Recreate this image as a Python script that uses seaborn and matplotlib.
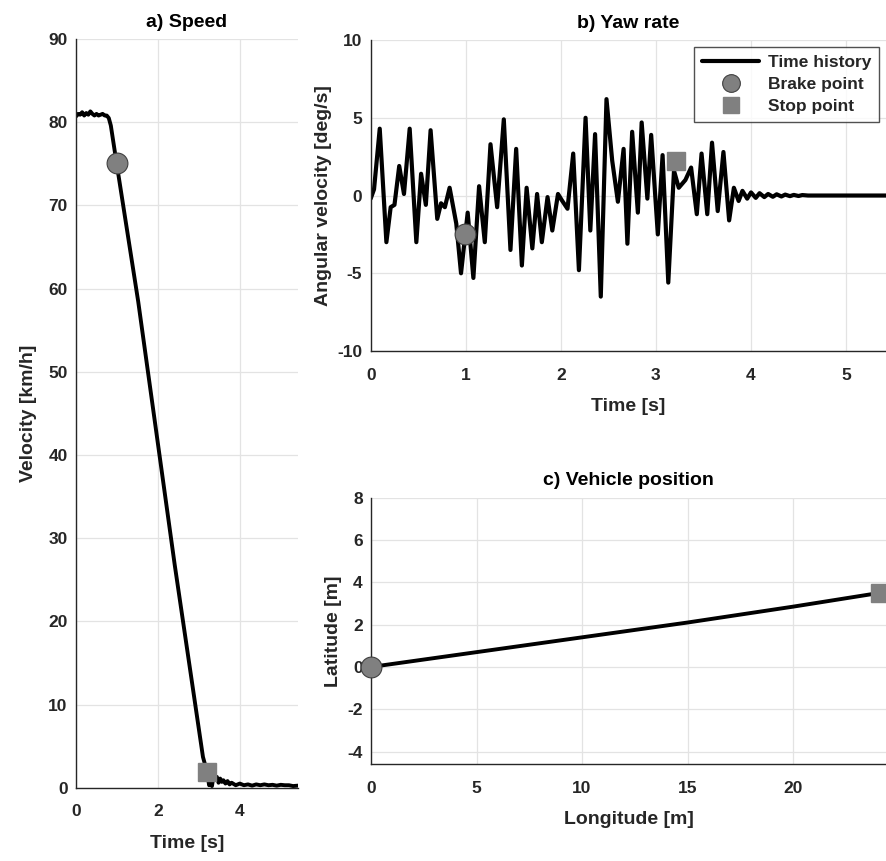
import numpy as np
import pandas as pd
import matplotlib
matplotlib.use('Agg')
import matplotlib.pyplot as plt
import seaborn as sns

# a) speed time history
speed_t = [0.0, 0.05, 0.1, 0.15, 0.2, 0.25, 0.3, 0.35, 0.4, 0.45, 0.5, 0.55, 0.6,
           0.65, 0.7, 0.75, 0.8, 0.85, 0.99, 1.52, 2.41, 3.10, 3.15, 3.2, 3.25,
           3.28, 3.32, 3.36, 3.4, 3.44, 3.48, 3.52, 3.56, 3.6, 3.65, 3.7, 3.75,
           3.8, 3.9, 4.0, 4.1, 4.2, 4.3, 4.4, 4.5, 4.6, 4.7, 4.8, 4.9, 5.0, 5.1,
           5.2, 5.3, 5.42]
speed_v = [80.7, 81.0, 80.9, 81.2, 80.8, 81.1, 80.9, 81.3, 81.0, 80.8, 81.0, 80.8,
           80.9, 81.0, 80.8, 80.8, 80.5, 79.6, 75.1, 58.4, 26.8, 3.7, 2.8, 1.9,
           0.3, 1.6, 0.2, 1.5, 1.0, 1.3, 0.6, 1.1, 0.7, 0.9, 0.5, 0.8, 0.4, 0.6,
           0.3, 0.5, 0.3, 0.4, 0.25, 0.4, 0.3, 0.4, 0.3, 0.35, 0.25, 0.35, 0.3,
           0.3, 0.2, 0.25]

# b) yaw rate time history
yaw_t = [0.0, 0.035, 0.095, 0.165, 0.21, 0.25, 0.30, 0.35, 0.41, 0.48, 0.53, 0.58,
         0.63, 0.70, 0.74, 0.78, 0.83, 0.90, 0.95, 1.02, 1.08, 1.14, 1.20, 1.26,
         1.33, 1.40, 1.47, 1.53, 1.59, 1.64, 1.70, 1.75, 1.80, 1.86, 1.91, 1.97,
         2.01, 2.07, 2.13, 2.19, 2.26, 2.31, 2.36, 2.42, 2.48, 2.54, 2.60, 2.66,
         2.70, 2.75, 2.81, 2.85, 2.91, 2.95, 3.02, 3.07, 3.13, 3.19, 3.24, 3.31,
         3.37, 3.43, 3.48, 3.54, 3.59, 3.65, 3.71, 3.77, 3.82, 3.87, 3.91, 3.96,
         4.0, 4.05, 4.09, 4.14, 4.18, 4.23, 4.27, 4.32, 4.36, 4.41, 4.45, 4.5,
         4.54, 4.6, 5.42]
yaw_v = [-0.2, 0.4, 4.3, -3.0, -0.75, -0.6, 1.9, 0.1, 4.3, -3.0, 1.4, -0.6,
         4.2, -1.5, -0.5, -0.75, 0.5, -1.8, -5.0, -1.1, -5.3, 0.6, -3.0, 3.3,
         -0.75, 4.9, -3.5, 3.0, -4.5, 0.5, -3.4, 0.1, -3.0, -0.1, -2.25, 0.1,
         -0.3, -0.85, 2.7, -4.8, 5.0, -2.25, 3.95, -6.5, 6.2, 2.25, -0.4, 3.0,
         -3.1, 4.1, -1.1, 4.7, -0.2, 3.9, -2.5, 2.6, -5.6, 1.6, 0.5, 1.0,
         1.8, -1.2, 2.7, -1.2, 3.4, -1.0, 2.8, -1.6, 0.5, -0.35, 0.3, -0.2,
         0.2, -0.15, 0.15, -0.1, 0.1, -0.08, 0.08, -0.06, 0.06, -0.04, 0.04, -0.03,
         0.03, 0.0, 0.0]

# c) vehicle position
pos_x = [0, 5, 10, 15, 20, 24.1]
pos_y = [0, 0.7, 1.4, 2.1, 2.85, 3.5]

brake_t, brake_speed, brake_yaw = 0.99, 75.1, -2.5
stop_t, stop_speed, stop_yaw = 3.21, 1.85, 2.2
brake_pos = (0.0, 0.0)
stop_pos = (24.1, 3.5)

sns.set_style('white')
plt.rcParams['font.family'] = ['Liberation Sans', 'DejaVu Sans']
plt.rcParams['font.weight'] = 'bold'
plt.rcParams['axes.unicode_minus'] = False

txt = '#262626'
fig = plt.figure(figsize=(8.86, 8.61), dpi=100)
ax1 = fig.add_axes([0.0858, 0.0851, 0.2505, 0.8696])
ax2 = fig.add_axes([0.4184, 0.5923, 0.5816, 0.3612])
ax3 = fig.add_axes([0.4187, 0.1123, 0.5813, 0.3097])

circ = dict(marker='o', ms=15, mfc='#808080', mec='#404040', mew=0.8, ls='none',
            zorder=5, clip_on=False)
sq = dict(marker='s', ms=13.5, mfc='#808080', mec='#808080', ls='none', zorder=5,
          clip_on=False)

title_kw = dict(fontsize=14, fontweight='bold', color='black', pad=9)
lab_kw = dict(fontsize=14, fontweight='bold', color=txt)

df_speed = pd.DataFrame({'t': speed_t, 'v': speed_v})
sns.lineplot(data=df_speed, x='t', y='v', ax=ax1, color='black', lw=2.8, sort=False)
ax1.plot(brake_t, brake_speed, **circ)
ax1.plot(stop_t, stop_speed, **sq)
ax1.set_xlim(0, 5.42)
ax1.set_ylim(0, 90)
ax1.set_xticks([0, 2, 4])
ax1.set_yticks(range(0, 91, 10))
ax1.set_title('a) Speed', **title_kw)
ax1.set_xlabel('Time [s]', labelpad=11, **lab_kw)
ax1.set_ylabel('Velocity [km/h]', labelpad=8, **lab_kw)

df_yaw = pd.DataFrame({'t': yaw_t, 'r': yaw_v})
sns.lineplot(data=df_yaw, x='t', y='r', ax=ax2, color='black', lw=3, sort=False,
             label='Time history')
ax2.plot(brake_t, brake_yaw, label='Brake point', **circ)
ax2.plot(stop_t, stop_yaw, label='Stop point', **sq)
ax2.set_xlim(0, 5.42)
ax2.set_ylim(-10, 10)
ax2.set_xticks(range(0, 6))
ax2.set_yticks([-10, -5, 0, 5, 10])
ax2.set_title('b) Yaw rate', **title_kw)
ax2.set_xlabel('Time [s]', labelpad=11, **lab_kw)
ax2.set_ylabel('Angular velocity [deg/s]', labelpad=4, **lab_kw)
leg = ax2.legend(loc='upper right', frameon=True, fancybox=False,
                 handlelength=3.3, borderaxespad=0.4, labelspacing=0.4,
                 handletextpad=0.5, markerscale=0.85, borderpad=0.45,
                 prop={'weight': 'bold', 'size': 12.5})
leg.get_frame().set_edgecolor('#262626')
leg.get_frame().set_linewidth(1.0)

df_pos = pd.DataFrame({'x': pos_x, 'y': pos_y})
sns.lineplot(data=df_pos, x='x', y='y', ax=ax3, color='black', lw=2.8, sort=False)
ax3.plot(*brake_pos, **circ)
ax3.plot(*stop_pos, **sq)
ax3.set_xlim(0, 24.4)
ax3.set_ylim(-4.6, 8)
ax3.set_xticks([0, 5, 10, 15, 20])
ax3.set_yticks(range(-4, 9, 2))
ax3.set_title('c) Vehicle position', **title_kw)
ax3.set_xlabel('Longitude [m]', labelpad=11, **lab_kw)
ax3.set_ylabel('Latitude [m]', labelpad=4, **lab_kw)

for ax in (ax1, ax2, ax3):
    ax.grid(True, color='#e3e3e3', lw=0.9)
    ax.set_axisbelow(True)
    for s in ('top', 'right'):
        ax.spines[s].set_visible(False)
    for s in ('left', 'bottom'):
        ax.spines[s].set_color(txt)
        ax.spines[s].set_linewidth(1.0)
    ax.tick_params(direction='in', length=4, width=0.8, colors=txt, labelsize=12.5)
    ax.tick_params(axis='x', pad=12)
    ax.tick_params(axis='y', pad=6)
    for lab in ax.get_xticklabels() + ax.get_yticklabels():
        lab.set_fontweight('bold')

fig.savefig('out.png', dpi=100)
